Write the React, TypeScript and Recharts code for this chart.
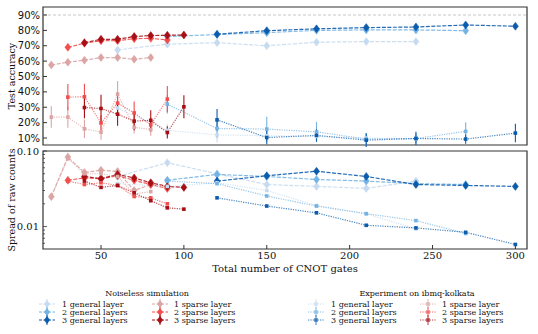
import React from 'react';
import { LineChart, Line, XAxis, YAxis, ErrorBar, ReferenceLine, ReferenceArea } from 'recharts';

// x positions (total number of CNOT gates)
const sparse1X = [20, 30, 40, 50, 60, 70, 80];
const sparse2X = [30, 40, 50, 60, 70, 80, 90];
const sparse3X = [40, 50, 60, 70, 80, 90, 100];
const general1X = [60, 90, 120, 150, 180, 210, 240];
const general2X = [90, 120, 150, 180, 210, 240, 270];
const general3X = [120, 150, 180, 210, 240, 270, 300];

// noiseless simulation: test accuracy (%)
const simAcc1S = [57.5, 59.3, 60.6, 62.3, 62.3, 61.2, 62.3];
const simAcc2S = [69, 71.6, 73.3, 73.3, 74.6, 74.8, 73.8];
const simAcc3S = [72, 74.2, 74.2, 76, 76.6, 76.8, 77];
const simAcc1G = [67.3, 71, 72, 70, 72.3, 72.7, 72.7];
const simAcc2G = [76, 77.3, 78.5, 80, 80.3, 80.3, 79.8];
const simAcc3G = [77.5, 79.8, 81, 81.8, 82.2, 83.5, 82.7];
const simErr = [1.2, 1.2, 1.2, 1.2, 1.2, 1.2, 1.2];

// experiment: test accuracy (%) and errors
const expAcc1S = [23.6, 23.6, 16, 13.8, 38.5, 17, 15.5];
const expErr1S = [7, 7, 6, 5, 8.5, 4, 4];
const expAcc2S = [36.6, 36.8, 19.8, 32.7, 26.3, 18.6, 35.3];
const expErr2S = [8.5, 8.5, 5, 7, 7.5, 4.5, 8.5];
const expAcc3S = [29.8, 29.2, 25.5, 21, 21.5, 13.6, 30.3];
const expErr3S = [7, 9, 7.5, 6, 6.5, 4, 7.5];
const expAcc1G = [29.5, 15, 12, 11.5, 11, 10, 9.5];
const expErr1G = [6, 4, 5, 4, 4, 3, 3];
const expAcc2G = [32, 16.2, 15.8, 14, 9.3, 9.7, 14.3];
const expErr2G = [6, 6, 8, 6.5, 4, 3, 6];
const expAcc3G = [21.8, 10.3, 11.7, 8.6, 9.7, 9.3, 13.2];
const expErr3G = [7, 4.3, 4, 4.5, 4.3, 3, 6];

// spread of raw counts
const simSpr1S = [0.0249, 0.083, 0.052, 0.0558, 0.0536, 0.030, 0.036];
const simSpr2S = [0.041, 0.044, 0.043, 0.047, 0.041, 0.036, 0.032];
const simSpr3S = [0.046, 0.043, 0.049, 0.044, 0.038, 0.034, 0.033];
const simSpr1G = [0.046, 0.07, 0.05, 0.036, 0.034, 0.032, 0.040];
const simSpr2G = [0.041, 0.049, 0.046, 0.042, 0.040, 0.037, 0.036];
const simSpr3G = [0.040, 0.047, 0.054, 0.046, 0.036, 0.035, 0.034];
const expSpr1S = [0.025, 0.08, 0.05, 0.05, 0.046, 0.027, 0.029];
const expSpr2S = [0.04, 0.036, 0.038, 0.035, 0.025, 0.024, 0.02];
const expSpr3S = [0.04, 0.033, 0.035, 0.028, 0.022, 0.0177, 0.017];
const expSpr1G = [0.037, 0.034, 0.038, 0.030, 0.019, 0.0148, 0.0093];
const expSpr2G = [0.04, 0.037, 0.0254, 0.0187, 0.0148, 0.012, 0.0081];
const expSpr3G = [0.024, 0.0187, 0.0152, 0.0104, 0.0096, 0.0084, 0.0058];

const accTicks = [10, 20, 30, 40, 50, 60, 70, 80, 90];
const xTicks = [50, 100, 150, 200, 250, 300];
const sprTicks = [0.006, 0.007, 0.008, 0.009, 0.01, 0.02, 0.03, 0.04, 0.05, 0.06, 0.07, 0.08, 0.09, 0.1];

const C1G = '#c6dbef';
const C2G = '#74b3e3';
const C3G = '#0b5cad';
const C1S = '#dba5a5';
const C2S = '#f24e4e';
const C3S = '#a50f15';

const SERIF = 'DejaVu Serif';
const SANS = 'DejaVu Sans';
const PLOT_L = 43;
const X_DOMAIN: [number, number] = [15, 307];

const rows = (xs: number[], ys: number[], es: number[]) => xs.map((x, i) => ({ x, y: ys[i], e: es[i] }));

const series = [
  { id: 's1G', exp: false, color: C1G, x: general1X, acc: simAcc1G, err: simErr, spr: simSpr1G },
  { id: 's2G', exp: false, color: C2G, x: general2X, acc: simAcc2G, err: simErr, spr: simSpr2G },
  { id: 's3G', exp: false, color: C3G, x: general3X, acc: simAcc3G, err: simErr, spr: simSpr3G },
  { id: 's1S', exp: false, color: C1S, x: sparse1X, acc: simAcc1S, err: simErr, spr: simSpr1S },
  { id: 's2S', exp: false, color: C2S, x: sparse2X, acc: simAcc2S, err: simErr, spr: simSpr2S },
  { id: 's3S', exp: false, color: C3S, x: sparse3X, acc: simAcc3S, err: simErr, spr: simSpr3S },
  { id: 'e1G', exp: true, color: C1G, x: general1X, acc: expAcc1G, err: expErr1G, spr: expSpr1G },
  { id: 'e2G', exp: true, color: C2G, x: general2X, acc: expAcc2G, err: expErr2G, spr: expSpr2G },
  { id: 'e3G', exp: true, color: C3G, x: general3X, acc: expAcc3G, err: expErr3G, spr: expSpr3G },
  { id: 'e1S', exp: true, color: C1S, x: sparse1X, acc: expAcc1S, err: expErr1S, spr: expSpr1S },
  { id: 'e2S', exp: true, color: C2S, x: sparse2X, acc: expAcc2S, err: expErr2S, spr: expSpr2S },
  { id: 'e3S', exp: true, color: C3S, x: sparse3X, acc: expAcc3S, err: expErr3S, spr: expSpr3S },
];

const diamond = (cx: number, cy: number) => `M${cx},${cy - 4}L${cx + 3},${cy}L${cx},${cy + 4}L${cx - 3},${cy}Z`;

const makeDot = (color: string, exp: boolean) => (p: any) => {
  const { cx, cy, index } = p;
  if (cx == null || cy == null) return <g key={index} />;
  if (exp) {
    return <rect key={index} x={cx - 1.8} y={cy - 1.8} width={3.6} height={3.6} fill={color} />;
  }
  return <path key={index} d={diamond(cx, cy)} fill={color} stroke={color} strokeWidth={0.5} />;
};

const LogTick = (p: any) => {
  const v = p.payload.value;
  const major = Math.abs(v - 0.01) < 1e-9 || Math.abs(v - 0.1) < 1e-9;
  return (
    <g>
      <line x1={PLOT_L} x2={PLOT_L + (major ? 4 : 2)} y1={p.y} y2={p.y} stroke="#333" strokeWidth={0.8} />
      {major && (
        <text x={PLOT_L - 4} y={p.y} dy={3.5} textAnchor="end" fontSize={10} fontFamily={SERIF} fill="#111">
          {v > 0.05 ? '0.10' : '0.01'}
        </text>
      )}
    </g>
  );
};

const LegendMark = ({ x, y, color, exp }: { x: number; y: number; color: string; exp: boolean }) => (
  <g opacity={exp ? 0.8 : 1}>
    <line x1={x - 8} x2={x + 8} y1={y} y2={y} stroke={color} strokeWidth={1.2} strokeDasharray={exp ? '1.2 1.2' : '3 1.5'} />
    <line x1={x} x2={x} y1={y - 5} y2={y + 5} stroke={color} strokeWidth={1} />
    {exp ? <rect x={x - 1.8} y={y - 1.8} width={3.6} height={3.6} fill={color} /> : <path d={diamond(x, y)} fill={color} />}
  </g>
);

const legendGroups = [
  { title: 'Noiseless simulation', cx: 147, exp: false, cols: [47, 160] },
  { title: 'Experiment on ibmq-kolkata', cx: 417, exp: true, cols: [316, 428] },
];
const legendRows = [
  { g: '1 general layer', s: '1 sparse layer', cg: C1G, cs: C1S },
  { g: '2 general layers', s: '2 sparse layers', cg: C2G, cs: C2S },
  { g: '3 general layers', s: '3 sparse layers', cg: C3G, cs: C3S },
];

export default function App() {
  return (
    <div style={{ position: 'relative', width: 538, height: 334, background: '#fff' }}>
      <style>{'body{margin:0}'}</style>
      <div style={{ position: 'absolute', left: 0, top: 0 }}>
        <LineChart width={538} height={148} margin={{ top: 7, right: 11, bottom: 3, left: 0 }}>
          <XAxis type="number" dataKey="x" domain={X_DOMAIN} ticks={xTicks} allowDataOverflow height={0}
            tick={false} tickSize={-4} axisLine={false} tickLine={{ stroke: '#333' }} />
          <YAxis type="number" domain={[5.45, 95.2]} ticks={accTicks} allowDataOverflow width={PLOT_L} interval={0}
            tickFormatter={(v: number) => `${v}%`} tickSize={-4} tickMargin={7} axisLine={false}
            tickLine={{ stroke: '#333' }} tick={{ fontSize: 10, fontFamily: SANS, fill: '#111' }} />
          <ReferenceLine y={90} stroke="#c8c8c8" strokeWidth={1.2} strokeDasharray="3 2" />
          {series.map((s) => (
            <Line key={s.id} name={s.id} data={rows(s.x, s.acc, s.err)} dataKey="y" type="linear"
              stroke={s.color} strokeOpacity={s.exp ? 0.75 : 0.9} strokeWidth={1.2}
              strokeDasharray={s.exp ? '1.2 1.2' : '4 1.5'} dot={makeDot(s.color, s.exp)} activeDot={false}
              isAnimationActive={false}>
              <ErrorBar dataKey="e" width={0} stroke={s.color} strokeWidth={1.1} direction="y" />
            </Line>
          ))}
          <ReferenceArea x1={X_DOMAIN[0]} x2={X_DOMAIN[1]} y1={5.45} y2={95.2} fill="none" fillOpacity={0}
            stroke="#333" strokeWidth={1.2} />
        </LineChart>
      </div>
      <div style={{ position: 'absolute', left: 0, top: 140 }}>
        <LineChart width={538} height={135} margin={{ top: 11, right: 11, bottom: 0, left: 0 }}>
          <XAxis type="number" dataKey="x" domain={X_DOMAIN} ticks={xTicks} allowDataOverflow height={26}
            tickSize={-4} tickMargin={7} axisLine={false} tickLine={{ stroke: '#333' }} interval={0}
            tick={{ fontSize: 10, fontFamily: SERIF, fill: '#111' }} />
          <YAxis type="number" scale="log" domain={[0.00505, 0.1]} ticks={sprTicks} allowDataOverflow width={PLOT_L}
            interval={0} axisLine={false} tickLine={false} tick={LogTick} />
          {series.map((s) => (
            <Line key={s.id} name={s.id} data={rows(s.x, s.spr, s.err)} dataKey="y" type="linear"
              stroke={s.color} strokeOpacity={s.exp ? 0.75 : 0.9} strokeWidth={1.2}
              strokeDasharray={s.exp ? '1.2 1.2' : '4 1.5'} dot={makeDot(s.color, s.exp)} activeDot={false}
              isAnimationActive={false} />
          ))}
          <ReferenceArea x1={X_DOMAIN[0]} x2={X_DOMAIN[1]} y1={0.00505} y2={0.1} fill="none" fillOpacity={0}
            stroke="#333" strokeWidth={1.2} />
        </LineChart>
      </div>
      <svg width={538} height={334} style={{ position: 'absolute', left: 0, top: 0, pointerEvents: 'none' }}
        fontFamily={SERIF} fill="#111">
        <text transform="translate(15,76) rotate(-90)" textAnchor="middle" fontSize={9.5}>Test accuracy</text>
        <text transform="translate(15,200) rotate(-90)" textAnchor="middle" fontSize={9.5}>Spread of raw counts</text>
        <text x={285} y={271.5} textAnchor="middle" fontSize={10}>Total number of CNOT gates</text>
        {legendGroups.map((grp) => (
          <g key={grp.title}>
            <text x={grp.cx} y={296} textAnchor="middle" fontSize={8}>{grp.title}</text>
            {legendRows.map((r, i) => (
              <g key={r.g}>
                <LegendMark x={grp.cols[0]} y={304 + i * 8} color={r.cg} exp={grp.exp} />
                <text x={grp.cols[0] + 15} y={307 + i * 8} fontSize={8}>{r.g}</text>
                <LegendMark x={grp.cols[1]} y={304 + i * 8} color={r.cs} exp={grp.exp} />
                <text x={grp.cols[1] + 14} y={307 + i * 8} fontSize={8}>{r.s}</text>
              </g>
            ))}
          </g>
        ))}
      </svg>
    </div>
  );
}
